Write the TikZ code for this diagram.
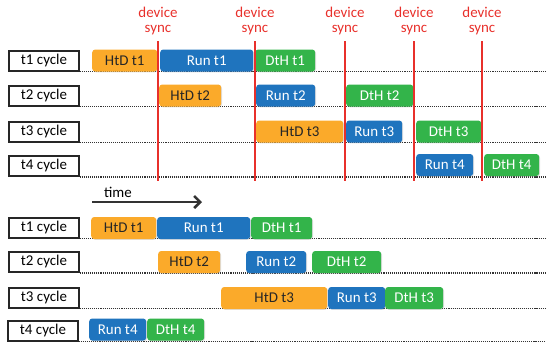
\documentclass[tikz,border=0pt]{standalone}
\usepackage{fontspec}
\setmainfont{Carlito}
\usetikzlibrary{arrows.meta,shadows}
\definecolor{htdc}{HTML}{FBAA2A}
\definecolor{runc}{HTML}{1F74BE}
\definecolor{dthc}{HTML}{33B44A}
\definecolor{syncc}{HTML}{E8302B}
\definecolor{linec}{HTML}{333333}
\tikzset{
  bar/.style={anchor=west, minimum height=22bp, inner sep=0pt, rounded corners=3bp,
    font=\fontsize{15}{15}\selectfont, drop shadow={shadow xshift=0.8bp, shadow yshift=-0.8bp, opacity=0.25}},
  htd/.style={bar, fill=htdc, text=black!85},
  runb/.style={bar, fill=runc, text=white},
  dth/.style={bar, fill=dthc, text=white},
  cyc/.style={draw=black!85, line width=2bp, minimum width=69bp, minimum height=20bp, inner sep=0pt,
    font=\fontsize{15}{15}\selectfont, fill=white},
  base/.style={densely dotted, line width=1.1bp, draw=linec},
  syncl/.style={draw=syncc, line width=1.8bp},
  synct/.style={text=syncc, align=center, font=\fontsize{15}{16}\selectfont, inner sep=0pt},
}
\begin{document}
\begin{tikzpicture}[x=1bp,y=-1bp]
\useasboundingbox (0,0) rectangle (546,341);
% ---------- top section ----------
\foreach \n/\xx in {1/158,2/255,3/345,4/414,5/482}{
  \node[synct] (ds\n) at (\xx,21) {device\\sync};
  \coordinate (s\n t) at (\xx,41);
  \coordinate (s\n b) at (\xx,181);
}
% cycle labels
\node[cyc] (a1) at (44,60.5) {t1 cycle};
\node[cyc] (a2) at (44,95.5) {t2 cycle};
\node[cyc] (a3) at (44,131.5) {t3 cycle};
\node[cyc] (a4) at (44,166) {t4 cycle};
\foreach \i in {1,...,4}{
  \coordinate (ae\i) at (546,0 |- a\i.south);
  \draw[base] (a\i.south east) -- (ae\i);
}
% bars top
\node[htd, minimum width=65bp] (h1) at (92,60.5) {HtD t1};
\node[runb, minimum width=93bp] (r1) at (160,60.5) {Run t1};
\node[dth, minimum width=60bp] (d1) at (255,60.5) {DtH t1};
\node[htd, minimum width=62bp] (h2) at (159,95.5) {HtD t2};
\node[runb, minimum width=59bp] (r2) at (256,95.5) {Run t2};
\node[dth, minimum width=67bp] (d2) at (346,95.5) {DtH t2};
\node[htd, minimum width=87bp] (h3) at (256,131.5) {HtD t3};
\node[runb, minimum width=56bp] (r3) at (346,131.5) {Run t3};
\node[dth, minimum width=65bp] (d3) at (416,131.5) {DtH t3};
\node[runb, minimum width=57bp] (r4) at (416,165) {Run t4};
\node[dth, minimum width=55bp] (d4) at (484,165) {DtH t4};
\foreach \n in {1,...,5}{
  \draw[syncl] (s\n t) -- (s\n b);
}
% ---------- time arrow ----------
\node[font=\fontsize{15}{15}\selectfont, inner sep=0pt] (tl) at (118,192) {time};
\coordinate (ta) at (92,202);
\coordinate (tb) at (202,202);
\draw[line width=2.8bp, draw=black!80, -{Straight Barb[length=6bp,width=12bp,line width=2.6bp]}] (ta) -- (tb);
% ---------- bottom section ----------
\node[cyc] (b1) at (44,227.5) {t1 cycle};
\node[cyc] (b2) at (44,262) {t2 cycle};
\node[cyc] (b3) at (44,297.5) {t3 cycle};
\node[cyc] (b4) at (43,330.5) {t4 cycle};
\foreach \i in {1,...,4}{
  \coordinate (be\i) at (546,0 |- b\i.south);
  \draw[base] (b\i.south east) -- (be\i);
}
\node[htd, minimum width=65bp] (bh1) at (91,228) {HtD t1};
\node[runb, minimum width=93bp] (br1) at (157,228) {Run t1};
\node[dth, minimum width=61bp] (bd1) at (251,228) {DtH t1};
\node[htd, minimum width=62bp] (bh2) at (158,262) {HtD t2};
\node[runb, minimum width=60bp] (br2) at (246,262) {Run t2};
\node[dth, minimum width=69bp] (bd2) at (312,262) {DtH t2};
\node[htd, minimum width=106bp] (bh3) at (221,298) {HtD t3};
\node[runb, minimum width=57bp] (br3) at (328,298) {Run t3};
\node[dth, minimum width=58bp] (bd3) at (385,298) {DtH t3};
\node[runb, minimum width=57bp] (br4) at (89,329.5) {Run t4};
\node[dth, minimum width=57bp] (bd4) at (147,329.5) {DtH t4};
\end{tikzpicture}
\end{document}
